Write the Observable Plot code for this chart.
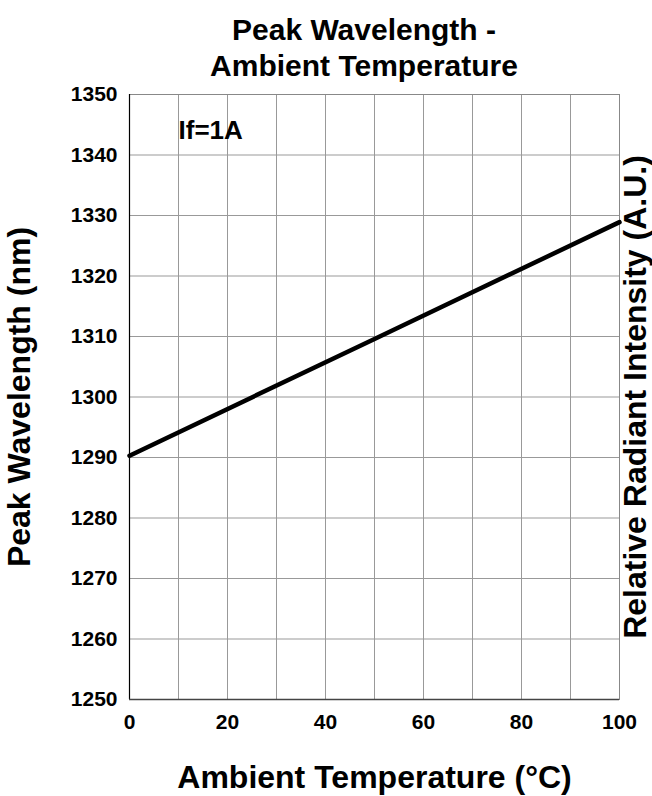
<!DOCTYPE html>
<html><head><meta charset="utf-8">
<script src="https://cdn.jsdelivr.net/npm/d3@7"></script>
<script src="https://cdn.jsdelivr.net/npm/@observablehq/plot@0.6"></script>
<style>
body{margin:0;background:#fff;font-family:"Liberation Sans",Arial,sans-serif;position:relative;}
#title{position:absolute;left:0;top:0;width:652px;box-sizing:border-box;padding:12px 0 0 76px;text-align:center;font-weight:bold;font-size:30px;line-height:36px;color:#000;}
</style>
</head><body>
<div id="chart"></div>
<div id="title">Peak Wavelength -<br>Ambient Temperature</div>
<script>
const temperature = [0, 50, 100];
const wavelength = [1290.3, 1309.6, 1328.9];
const xTicks = [0, 20, 40, 60, 80, 100];
const yTicks = [1250, 1260, 1270, 1280, 1290, 1300, 1310, 1320, 1330, 1340, 1350];
const xGrid = [10, 20, 30, 40, 50, 60, 70, 80, 90];
const annotation = [{x: 10, y: 1344, text: "If=1A"}];

const data = temperature.map((t, i) => ({t, w: wavelength[i]}));

const chart = Plot.plot({
  width: 652,
  height: 796,
  marginTop: 94,
  marginBottom: 97,
  marginLeft: 129,
  marginRight: 33,
  style: {fontFamily: "Liberation Sans, Arial, sans-serif", fontWeight: "bold", fontSize: "21px", color: "#000", background: "#fff", overflow: "visible"},
  x: {domain: [0, 100]},
  y: {domain: [1250, 1350]},
  marks: [
    Plot.gridX(xGrid, {stroke: "#999", strokeOpacity: 1, strokeWidth: 1}),
    Plot.gridY(yTicks, {stroke: "#999", strokeOpacity: 1, strokeWidth: 1}),
    Plot.frame({stroke: "#888", strokeWidth: 1}),
    Plot.ruleX([0], {stroke: "#000", strokeWidth: 1.2}),
    Plot.ruleY([1250], {stroke: "#444", strokeWidth: 1.5}),
    Plot.axisX({ticks: xTicks, tickSize: 0, tickPadding: 15, tickFormat: d => String(d), fontSize: 21, fontWeight: "bold",
      label: "Ambient Temperature (°C)", labelAnchor: "center", labelArrow: "none", labelOffset: 88}),
    Plot.axisY({ticks: yTicks, tickSize: 0, tickPadding: 12, tickFormat: d => String(d), fontSize: 21, fontWeight: "bold",
      label: "Peak Wavelength (nm)", labelAnchor: "center", labelArrow: "none", labelOffset: 122}),
    Plot.axisY({anchor: "right", ticks: [], label: "Relative Radiant Intensity (A.U.)", labelAnchor: "center", labelArrow: "none", labelOffset: 26}),
    Plot.line(data, {x: "t", y: "w", stroke: "#000", strokeWidth: 4.5}),
    Plot.text(annotation, {x: "x", y: "y", text: "text", textAnchor: "start", fontSize: 26, fontWeight: "bold", fill: "#000"})
  ]
});
chart.querySelectorAll('[aria-label="x-axis label"], [aria-label="y-axis label"]').forEach(g => {
  g.setAttribute("font-size", "32px");
  g.querySelectorAll("text").forEach(t => t.setAttribute("font-size", "32px"));
});
chart.querySelectorAll('[aria-label="x-axis tick label"], [aria-label="y-axis tick label"]').forEach(g => {
  g.setAttribute("font-size", "21px");
});
document.getElementById("chart").appendChild(chart);
</script>
</body></html>
